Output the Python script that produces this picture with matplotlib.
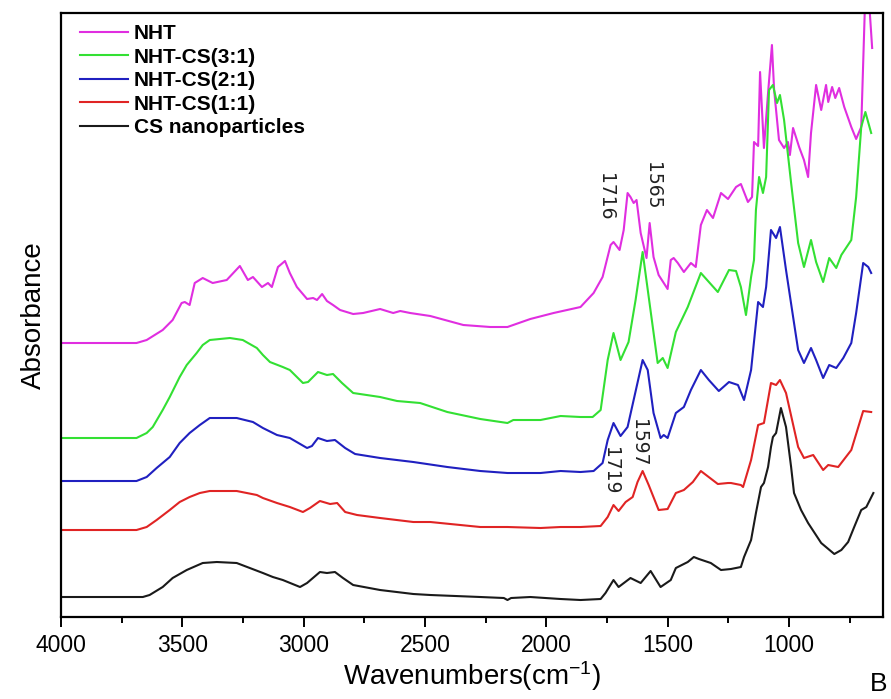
import numpy as np
import matplotlib
matplotlib.use("Agg")
import matplotlib.pyplot as plt
from matplotlib.ticker import MultipleLocator

plt.rcParams['font.family'] = ['Liberation Sans', 'DejaVu Sans']
plt.rcParams['mathtext.fontset'] = 'custom'
plt.rcParams['mathtext.rm'] = 'Liberation Sans'
plt.rcParams['mathtext.it'] = 'Liberation Sans'

# FTIR spectra (stacked, arbitrary absorbance units)
cs_wn = [4000, 3689, 3663, 3635, 3581, 3540, 3482, 3416, 3358, 3276, 3222, 3168, 3127,
         3086, 3015, 2986, 2933, 2904, 2871, 2838, 2796, 2685, 2548, 2478, 2272, 2175,
         2160, 2145, 2066, 1941, 1859, 1776, 1756, 1723, 1702, 1653, 1611, 1570, 1529,
         1487, 1466, 1417, 1392, 1371, 1322, 1280, 1239, 1198, 1185, 1156, 1136, 1115,
         1103, 1086, 1074, 1066, 1053, 1033, 1012, 991, 979, 950, 921, 867, 813, 784,
         756, 731, 702, 681, 652]
cs_ab = [0.20, 0.20, 0.20, 0.22, 0.30, 0.39, 0.47, 0.54, 0.55, 0.54, 0.49, 0.44, 0.40,
         0.37, 0.30, 0.34, 0.45, 0.44, 0.45, 0.39, 0.32, 0.27, 0.23, 0.22, 0.20, 0.19,
         0.17, 0.19, 0.20, 0.18, 0.17, 0.18, 0.24, 0.37, 0.30, 0.39, 0.34, 0.46, 0.30,
         0.37, 0.49, 0.55, 0.60, 0.58, 0.54, 0.47, 0.48, 0.50, 0.60, 0.77, 1.04, 1.30,
         1.34, 1.50, 1.70, 1.80, 1.84, 2.09, 1.90, 1.50, 1.24, 1.07, 0.94, 0.74, 0.63,
         0.67, 0.75, 0.90, 1.07, 1.10, 1.24]

r11_wn = [4000, 3689, 3647, 3606, 3552, 3511, 3470, 3428, 3387, 3276, 3193, 3168, 3110,
          3057, 3003, 2974, 2933, 2891, 2862, 2829, 2780, 2685, 2548, 2478, 2272, 2160,
          2024, 1941, 1859, 1776, 1747, 1723, 1702, 1673, 1644, 1624, 1603, 1578, 1537,
          1500, 1466, 1433, 1396, 1363, 1293, 1251, 1239, 1198, 1189, 1156, 1127, 1103,
          1074, 1053, 1037, 1012, 962, 938, 900, 859, 838, 797, 743, 694, 661]
r11_ab = [0.87, 0.87, 0.90, 0.97, 1.07, 1.15, 1.20, 1.24, 1.26, 1.26, 1.22, 1.19, 1.14,
          1.10, 1.05, 1.09, 1.16, 1.13, 1.14, 1.05, 1.02, 0.99, 0.95, 0.95, 0.90, 0.90,
          0.89, 0.90, 0.90, 0.91, 1.00, 1.12, 1.06, 1.15, 1.20, 1.35, 1.46, 1.32, 1.07,
          1.08, 1.24, 1.27, 1.35, 1.46, 1.33, 1.34, 1.34, 1.32, 1.30, 1.57, 1.92, 1.94,
          2.34, 2.32, 2.37, 2.24, 1.70, 1.59, 1.62, 1.47, 1.52, 1.50, 1.67, 2.06, 2.05]

r21_wn = [4000, 3689, 3647, 3606, 3552, 3511, 3470, 3428, 3387, 3276, 3209, 3168, 3110,
          3057, 2986, 2966, 2941, 2904, 2871, 2829, 2788, 2685, 2548, 2408, 2272, 2160,
          2024, 1941, 1859, 1805, 1768, 1747, 1723, 1694, 1665, 1640, 1603, 1582, 1558,
          1529, 1516, 1500, 1466, 1433, 1404, 1363, 1330, 1289, 1247, 1210, 1185, 1156,
          1127, 1107, 1094, 1074, 1053, 1037, 1012, 979, 962, 938, 909, 888, 859, 834,
          805, 776, 743, 723, 694, 673, 661]
r21_ab = [1.36, 1.36, 1.40, 1.49, 1.60, 1.74, 1.84, 1.92, 1.99, 1.99, 1.95, 1.89, 1.82,
          1.79, 1.69, 1.71, 1.79, 1.76, 1.77, 1.69, 1.63, 1.59, 1.55, 1.50, 1.46, 1.44,
          1.44, 1.46, 1.45, 1.46, 1.54, 1.77, 1.94, 1.81, 1.90, 2.17, 2.57, 2.47, 2.04,
          1.79, 1.82, 1.79, 2.04, 2.10, 2.27, 2.47, 2.37, 2.26, 2.35, 2.32, 2.17, 2.47,
          3.15, 3.10, 3.30, 3.87, 3.79, 3.90, 3.47, 2.94, 2.67, 2.54, 2.69, 2.57, 2.39,
          2.52, 2.49, 2.59, 2.74, 3.04, 3.54, 3.50, 3.44]

r31_wn = [4000, 3689, 3647, 3622, 3581, 3552, 3511, 3482, 3441, 3416, 3387, 3304, 3251,
          3193, 3168, 3139, 3086, 3057, 3003, 2982, 2941, 2904, 2879, 2842, 2796, 2685,
          2615, 2520, 2408, 2272, 2160, 2136, 2024, 1941, 1859, 1809, 1776, 1747, 1723,
          1694, 1661, 1632, 1603, 1541, 1520, 1500, 1466, 1417, 1363, 1293, 1247, 1218,
          1198, 1177, 1156, 1144, 1136, 1123, 1107, 1094, 1082, 1066, 1049, 1037, 1020,
          991, 962, 938, 909, 888, 859, 834, 805, 784, 743, 723, 702, 685, 661]
r31_ab = [1.79, 1.79, 1.84, 1.90, 2.07, 2.20, 2.40, 2.52, 2.64, 2.72, 2.77, 2.79, 2.77,
          2.69, 2.62, 2.55, 2.50, 2.47, 2.34, 2.35, 2.45, 2.42, 2.43, 2.34, 2.24, 2.20,
          2.16, 2.14, 2.05, 1.98, 1.94, 1.97, 1.97, 2.01, 2.00, 2.00, 2.07, 2.57, 2.84,
          2.57, 2.75, 3.17, 3.65, 2.54, 2.59, 2.49, 2.85, 3.10, 3.44, 3.25, 3.47, 3.46,
          3.30, 3.02, 3.40, 3.57, 4.07, 4.40, 4.24, 4.40, 5.27, 5.32, 5.14, 5.22, 4.97,
          4.34, 3.74, 3.50, 3.77, 3.55, 3.35, 3.59, 3.49, 3.62, 3.77, 4.20, 4.90, 5.05,
          4.84]

nht_wn = [4000, 3689, 3647, 3581, 3540, 3503, 3490, 3470, 3449, 3416, 3375, 3317, 3263,
          3230, 3209, 3172, 3147, 3131, 3106, 3077, 3057, 3028, 2986, 2961, 2945, 2924,
          2904, 2879, 2850, 2796, 2755, 2685, 2631, 2602, 2561, 2478, 2342, 2231, 2160,
          2066, 1970, 1859, 1805, 1768, 1735, 1723, 1698, 1681, 1665, 1653, 1640, 1628,
          1611, 1587, 1574, 1558, 1537, 1500, 1487, 1475, 1458, 1433, 1404, 1384, 1363,
          1338, 1313, 1280, 1251, 1218, 1198, 1169, 1152, 1144, 1127, 1119, 1103, 1086,
          1070, 1061, 1041, 1020, 1004, 996, 983, 958, 938, 921, 909, 888, 867, 847, 838,
          822, 809, 793, 772, 743, 723, 702, 681, 657]
nht_ab = [2.74, 2.74, 2.77, 2.87, 2.97, 3.14, 3.15, 3.12, 3.34, 3.39, 3.34, 3.37, 3.51,
          3.37, 3.40, 3.30, 3.34, 3.30, 3.50, 3.56, 3.44, 3.30, 3.18, 3.19, 3.17, 3.23,
          3.16, 3.12, 3.07, 3.03, 3.04, 3.08, 3.04, 3.06, 3.04, 3.01, 2.92, 2.90, 2.90,
          2.98, 3.04, 3.10, 3.24, 3.40, 3.72, 3.75, 3.67, 3.87, 4.24, 4.20, 4.14, 4.17,
          3.84, 3.59, 3.94, 3.60, 3.42, 3.28, 3.57, 3.59, 3.54, 3.45, 3.54, 3.50, 3.92,
          4.07, 3.99, 4.24, 4.18, 4.30, 4.33, 4.15, 4.20, 4.75, 4.71, 5.45, 4.69, 5.24,
          5.72, 5.27, 4.77, 4.69, 4.75, 4.62, 4.89, 4.70, 4.57, 4.40, 4.84, 5.32, 5.07,
          5.32, 5.15, 5.30, 5.19, 5.29, 5.10, 4.90, 4.78, 4.90, 6.57, 5.69]

labels = ['NHT', 'NHT-CS(3:1)', 'NHT-CS(2:1)', 'NHT-CS(1:1)', 'CS nanoparticles']
colors = ['#e02ee0', '#33e033', '#2020c0', '#e02424', '#1a1a1a']

# band positions marked on the plot: (text, wavenumber, y)
bands = [('1716', 1755, 4.20), ('1565', 1561, 4.31),
         ('1597', 1619, 1.74), ('1719', 1734, 1.46)]

fig = plt.figure(figsize=(8.91, 6.99), dpi=100)
ax = fig.add_axes([0.0685, 0.1173, 0.9226, 0.8641])

series = [(nht_wn, nht_ab), (r31_wn, r31_ab), (r21_wn, r21_ab),
          (r11_wn, r11_ab), (cs_wn, cs_ab)]
for (wn, ab), lab, col in zip(series, labels, colors):
    ax.plot(wn, ab, color=col, lw=1.5, label=lab, solid_joinstyle='round')

for txt, wn, y in bands:
    ax.text(wn, y, txt, rotation=-90, ha='center', va='center',
            fontsize=13.5, family='DejaVu Sans', color='#222222')

ax.set_xlim(4000, 612)
ax.set_ylim(0, 6.04)
ax.xaxis.set_major_locator(MultipleLocator(500))
ax.xaxis.set_minor_locator(MultipleLocator(250))
ax.tick_params(axis='x', which='major', direction='out', length=7, width=1.4,
               labelsize=16.5, pad=5)
ax.tick_params(axis='x', which='minor', direction='out', length=4, width=1.4)
ax.tick_params(axis='y', left=False, labelleft=False)
for sp in ax.spines.values():
    sp.set_linewidth(1.6)

ax.set_xlabel(r'Wavenumbers(cm$^{\mathrm{-1}}$)', fontsize=20, labelpad=2)
ax.set_ylabel('Absorbance', fontsize=20, labelpad=10)
fig.text(0.986, 0.022, 'B', fontsize=19, ha='center', va='center')

leg = ax.legend(loc='upper left', bbox_to_anchor=(0.005, 1.006), frameon=False,
                prop={'family': 'Liberation Sans', 'weight': 'bold', 'size': 15},
                handlelength=2.3, handletextpad=0.3, labelspacing=0.22,
                borderaxespad=0.3)

fig.savefig('out.png', dpi=100)
